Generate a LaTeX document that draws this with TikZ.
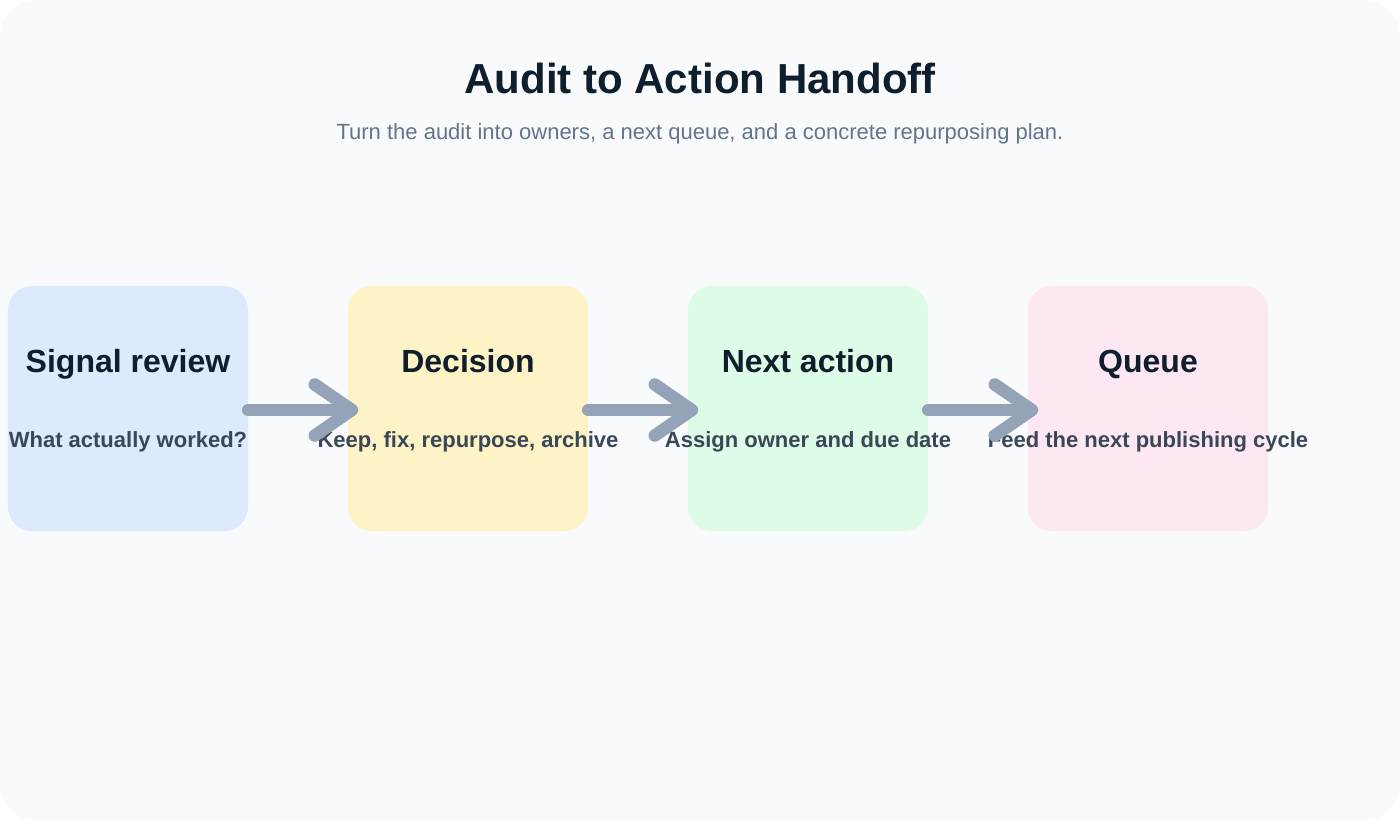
\documentclass[tikz,border=0pt]{standalone}
\usepackage{fontspec}
\setmainfont{Liberation Sans}
\definecolor{bgc}{HTML}{F8FAFC}
\definecolor{cblue}{HTML}{DBEAFE}
\definecolor{cyellow}{HTML}{FEF3C7}
\definecolor{cgreen}{HTML}{DCFCE7}
\definecolor{cpink}{HTML}{FCE7F3}
\definecolor{arrc}{HTML}{94A3B8}
\definecolor{titc}{HTML}{0F1E2C}
\definecolor{subc}{HTML}{64748B}
\definecolor{txtc}{HTML}{3A4757}
\tikzset{
  card/.style={draw=none, rounded corners=24bp, minimum width=240bp, minimum height=245bp, inner sep=0pt},
  ctitle/.style={anchor=base, inner sep=0pt, text=titc, font=\fontsize{32bp}{38bp}\selectfont\bfseries},
  ctext/.style={anchor=base, inner sep=0pt, text=txtc, font=\fontsize{22bp}{26bp}\selectfont\bfseries},
  arrowline/.style={draw=arrc, line width=12.5bp, line cap=round, line join=round},
}
\begin{document}
\begin{tikzpicture}[x=1bp,y=-1bp]
\useasboundingbox (0,0) rectangle (1400,820);
\fill[white] (0,0) rectangle (1400,820);
\fill[bgc, rounded corners=36bp] (0,0) rectangle (1400,820);

\node[anchor=base, inner sep=0pt, text=titc, font=\fontsize{42bp}{50bp}\selectfont\bfseries] (title) at (700,93) {Audit to Action Handoff};
\node[anchor=base, inner sep=0pt, text=subc, font=\fontsize{22bp}{26bp}\selectfont] (subtitle) at (700,139) {Turn the audit into owners, a next queue, and a concrete repurposing plan.};

\node[card, fill=cblue]   (c1) at (128,408.5) {};
\node[card, fill=cyellow] (c2) at (468,408.5) {};
\node[card, fill=cgreen]  (c3) at (808,408.5) {};
\node[card, fill=cpink]   (c4) at (1148,408.5) {};

\node[ctitle] (t1) at (128,372) {Signal review};
\node[ctitle] (t2) at (468,372) {Decision};
\node[ctitle] (t3) at (808,372) {Next action};
\node[ctitle] (t4) at (1148,372) {Queue};

\node[ctext] (d1) at (128,447.5) {What actually worked?};
\node[ctext] (d2) at (468,447.5) {Keep, fix, repurpose, archive};
\node[ctext] (d3) at (808,447.5) {Assign owner and due date};
\node[ctext] (d4) at (1148,447.5) {Feed the next publishing cycle};

\coordinate (s1) at ([yshift=-1.5bp]c1.east);
\coordinate (e1) at ([xshift=4bp,yshift=-1.5bp]c2.west);
\coordinate (s2) at ([yshift=-1.5bp]c2.east);
\coordinate (e2) at ([xshift=4bp,yshift=-1.5bp]c3.west);
\coordinate (s3) at ([yshift=-1.5bp]c3.east);
\coordinate (e3) at ([xshift=4bp,yshift=-1.5bp]c4.west);

\foreach \s/\e in {s1/e1, s2/e2, s3/e3}{
  \draw[arrowline] (\s) -- (\e);
  \draw[arrowline] (\e) ++(-37,-25.5) -- (\e) -- ++(-37,25.5);
}
\end{tikzpicture}
\end{document}
